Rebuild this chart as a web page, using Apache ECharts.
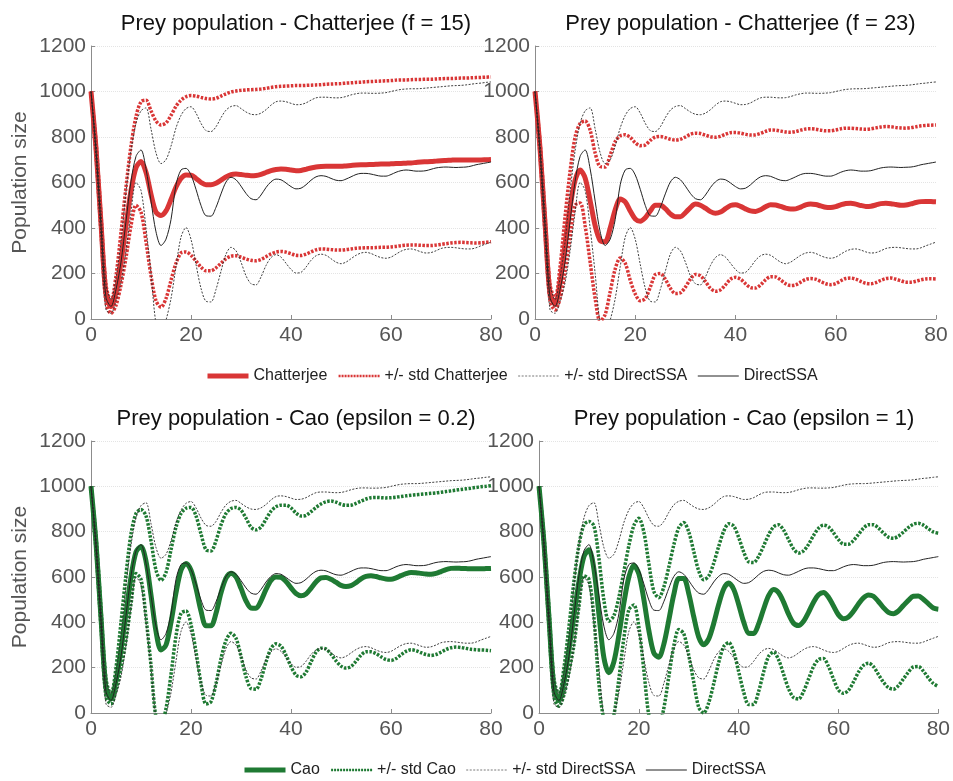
<!DOCTYPE html>
<html>
<head>
<meta charset="utf-8">
<script src="https://cdn.jsdelivr.net/npm/echarts@6/dist/echarts.min.js"></script>
<style>
  html, body { margin: 0; padding: 0; background: #fff; }
  #main { width: 953px; height: 781px; }
</style>
</head>
<body>
<div id="main"></div>
<script>
// time points (0..80)
var t = [];
for (var k = 0; k <= 80; k++) t.push(k);

// DirectSSA (same in every panel)
var ssaMean = [
  1000, 740, 410, 95, 55, 130, 250, 430, 605, 715,
  743, 660, 518, 383, 323, 351, 437, 590, 655, 662,
  633, 570, 499, 454, 452, 491, 550, 602, 623, 612,
  584, 552, 529, 524, 545, 578, 603, 615, 612, 598,
  582, 572, 575, 590, 610, 625, 630, 627, 618, 610,
  608, 615, 625, 635, 640, 640, 637, 632, 628, 628,
  635, 645, 652, 655, 653, 650, 650, 652, 658, 664,
  667, 668, 667, 666, 667, 668, 672, 678, 682, 686,
  690];
var ssaUpper = [
  1000, 780, 470, 150, 85, 180, 340, 560, 740, 860,
  915, 928, 835, 730, 683, 700, 760, 840, 895, 925,
  933, 905, 860, 828, 824, 845, 885, 918, 934, 938,
  925, 910, 900, 898, 905, 920, 940, 955, 958, 955,
  948, 942, 943, 950, 962, 972, 975, 975, 973, 972,
  973, 978, 985, 990, 993, 993, 992, 992, 993, 995,
  1000, 1005, 1009, 1011, 1012, 1012, 1013, 1015, 1017, 1019,
  1021, 1023, 1025, 1026, 1027, 1029, 1032, 1035, 1037, 1040,
  1042];
var ssaLower = [
  1000, 700, 350, 40, 25, 80, 160, 300, 470, 600,
  565, 400, 200, -20, -70, -5, 90, 230, 360, 402,
  350, 240, 135, 78, 75, 130, 210, 285, 315, 300,
  250, 190, 155, 150, 185, 235, 270, 283, 272, 245,
  218, 202, 205, 228, 258, 278, 285, 280, 265, 250,
  243, 250, 265, 280, 290, 293, 288, 278, 270, 267,
  272, 285, 298, 306, 308, 303, 295, 290, 292, 300,
  310, 314, 315, 313, 310, 308, 308, 313, 322, 330,
  338];

// Chatterjee f = 15
var chat15Mean = [
  1000, 750, 420, 110, 55, 120, 250, 410, 565, 665,
  692, 645, 548, 470, 455, 475, 525, 580, 618, 633,
  632, 618, 600, 590, 590, 597, 610, 625, 635, 637,
  635, 632, 630, 631, 636, 644, 652, 657, 659, 658,
  655, 652, 653, 658, 664, 668, 670, 671, 671, 671,
  671, 673, 675, 677, 678, 678, 679, 680, 681, 681,
  682, 683, 684, 685, 686, 688, 690, 691, 692, 694,
  696, 697, 698, 699, 699, 699, 699, 699, 699, 700,
  701];
var chat15Upper = [
  1000, 780, 460, 150, 75, 190, 380, 580, 760, 890,
  955, 962, 915, 870, 853, 862, 895, 935, 962, 977,
  982, 980, 974, 969, 967, 970, 980, 990, 998, 1002,
  1005, 1007, 1008, 1009, 1011, 1014, 1018, 1021, 1023, 1024,
  1025, 1026, 1026, 1027, 1028, 1029, 1030, 1032, 1033, 1034,
  1035, 1037, 1038, 1040, 1041, 1043, 1044, 1045, 1046, 1047,
  1048, 1050, 1051, 1051, 1052, 1053, 1053, 1054, 1054, 1055,
  1056, 1057, 1057, 1058, 1059, 1059, 1060, 1061, 1062, 1063,
  1064];
var chat15Lower = [
  1000, 720, 380, 70, 25, 60, 150, 270, 410, 500,
  470, 340, 190, 80, 52, 90, 170, 245, 290, 295,
  280, 255, 228, 212, 212, 225, 245, 265, 276, 278,
  272, 264, 258, 256, 262, 274, 286, 294, 297, 294,
  287, 280, 279, 285, 295, 304, 308, 307, 305, 303,
  303, 305, 308, 311, 312, 313, 313, 314, 315, 315,
  317, 319, 322, 324, 325, 325, 324, 323, 323, 325,
  328, 331, 334, 336, 337, 336, 335, 334, 335, 337,
  340];

// Chatterjee f = 23
var chat23Mean = [
  1000, 750, 420, 110, 65, 160, 330, 490, 610, 655,
  620, 520, 410, 345, 340, 400, 480, 527, 515, 475,
  440, 430, 445, 475, 500, 500, 485, 462, 450, 450,
  467, 490, 505, 500, 487, 472, 465, 470, 485, 499,
  502, 495, 484, 475, 473, 480, 493, 502, 501, 495,
  487, 483, 484, 492, 502, 506, 503, 497, 491, 490,
  494, 502, 508, 509, 505, 499, 495, 496, 501, 507,
  509, 507, 503, 500, 501, 506, 512, 516, 517, 516,
  515];
var chat23Upper = [
  1000, 780, 460, 150, 90, 230, 450, 650, 800, 860,
  870, 830, 730, 670, 668, 720, 780, 805, 810, 798,
  775, 762, 765, 785, 800, 802, 797, 790, 787, 790,
  800, 812, 817, 815, 808, 801, 799, 803, 812, 819,
  820, 817, 812, 809, 810, 816, 825, 831, 830, 826,
  822, 821, 824, 830, 835, 836, 834, 830, 827, 827,
  831, 836, 839, 839, 837, 835, 834, 836, 840, 844,
  846, 845, 842, 840, 839, 841, 845, 849, 851, 852,
  853];
var chat23Lower = [
  1000, 720, 380, 80, 40, 90, 210, 360, 500, 510,
  410, 250, 90, -10, 20, 120, 220, 268, 245, 170,
  110, 80, 90, 140, 195, 200, 175, 135, 112, 115,
  140, 175, 196, 190, 165, 135, 122, 128, 150, 175,
  183, 175, 155, 138, 136, 150, 172, 186, 185, 172,
  155, 147, 150, 162, 174, 178, 175, 165, 155, 151,
  156, 168, 178, 180, 175, 165, 157, 155, 160, 170,
  178, 180, 175, 168, 162, 162, 166, 172, 176, 177,
  176];

// Cao epsilon = 0.2
var cao02Mean = [
  1000, 750, 420, 110, 62, 140, 280, 440, 600, 710,
  735, 670, 520, 360, 278, 300, 400, 530, 630, 660,
  630, 550, 450, 385, 385, 440, 530, 595, 617, 600,
  550, 495, 463, 462, 495, 545, 585, 600, 598, 580,
  552, 527, 517, 525, 550, 578, 596, 598, 590, 577,
  563, 558, 562, 575, 592, 603, 606, 602, 596, 591,
  590, 596, 606, 615, 620, 619, 616, 613, 612, 616,
  624, 633, 638, 639, 638, 637, 636, 636, 636, 637,
  638];
var cao02Upper = [
  1000, 780, 460, 150, 80, 200, 400, 610, 790, 880,
  898, 870, 760, 630, 585, 620, 720, 820, 880, 903,
  907, 870, 790, 720, 715, 760, 830, 880, 902, 907,
  895, 860, 820, 808, 820, 855, 890, 910, 917, 917,
  905, 882, 869, 872, 888, 907, 922, 932, 935, 930,
  921, 916, 917, 925, 935, 944, 950, 951, 950, 949,
  950, 952, 955, 958, 961, 963, 965, 967, 969, 971,
  974, 977, 980, 983, 986, 989, 992, 995, 998, 1000,
  1003];
var cao02Lower = [
  1000, 720, 380, 70, 40, 100, 200, 320, 480, 615,
  590, 420, 210, -20, -50, 20, 170, 340, 440, 450,
  390, 270, 130, 40, 50, 130, 240, 320, 352, 330,
  250, 160, 108, 105, 150, 225, 285, 305, 295, 255,
  205, 167, 160, 180, 225, 268, 286, 282, 260, 230,
  207, 198, 205, 228, 255, 270, 270, 262, 248, 236,
  232, 240, 257, 272, 279, 275, 266, 258, 254, 258,
  268, 280, 288, 291, 289, 285, 281, 279, 278, 277,
  275];

// Cao epsilon = 1
var cao1Mean = [
  1000, 750, 420, 110, 55, 140, 280, 430, 580, 690,
  720, 636, 437, 244, 178, 226, 343, 485, 600, 652,
  614, 502, 365, 265, 246, 303, 409, 522, 593, 593,
  527, 425, 335, 301, 327, 395, 479, 547, 573, 546,
  479, 402, 352, 351, 393, 459, 518, 545, 531, 489,
  436, 396, 386, 405, 444, 489, 522, 532, 511, 472,
  433, 416, 424, 449, 481, 508, 521, 515, 492, 465,
  444, 438, 450, 474, 497, 515, 516, 502, 482, 463,
  458];
var cao1Upper = [
  1000, 780, 460, 150, 80, 200, 380, 580, 740, 830,
  845, 826, 683, 498, 405, 429, 510, 624, 738, 827,
  859, 799, 660, 537, 509, 555, 643, 741, 817, 840,
  799, 713, 627, 588, 604, 661, 735, 801, 835, 825,
  775, 711, 667, 664, 691, 737, 786, 821, 830, 807,
  765, 724, 706, 715, 744, 783, 815, 829, 821, 795,
  765, 745, 745, 761, 788, 815, 831, 831, 816, 794,
  776, 771, 780, 798, 818, 833, 837, 829, 813, 799,
  793];
var cao1Lower = [
  1000, 720, 380, 70, 30, 80, 180, 300, 470, 605,
  590, 420, 130, -30, -80, -10, 150, 330, 455, 477,
  380, 190, -10, -80, -60, 20, 160, 295, 368, 350,
  255, 137, 25, 0, 45, 129, 223, 293, 311, 270,
  183, 93, 37, 38, 95, 181, 250, 269, 235, 171,
  107, 68, 62, 95, 150, 205, 236, 240, 205, 150,
  101, 87, 100, 137, 180, 210, 220, 205, 170, 136,
  112, 105, 120, 150, 180, 203, 205, 185, 155, 130,
  117];

var titles = [
  'Prey population - Chatterjee (f = 15)',
  'Prey population - Chatterjee (f = 23)',
  'Prey population - Cao (epsilon = 0.2)',
  'Prey population - Cao (epsilon = 1)'
];
var xTicks = [0, 20, 40, 60, 80];
var yTicks = [0, 200, 400, 600, 800, 1000, 1200];

var RED = '#d93636';
var GREEN = '#1f7a33';
var FONT = 'Liberation Sans';

var grids = [
  { left: 91, top: 46, width: 400, height: 273 },
  { left: 535, top: 46, width: 401, height: 273 },
  { left: 91, top: 441, width: 400, height: 272 },
  { left: 539, top: 441, width: 400, height: 272 }
];

var panels = [
  { name: 'Chatterjee', color: RED, mean: chat15Mean, up: chat15Upper, lo: chat15Lower },
  { name: 'Chatterjee', color: RED, mean: chat23Mean, up: chat23Upper, lo: chat23Lower },
  { name: 'Cao', color: GREEN, mean: cao02Mean, up: cao02Upper, lo: cao02Lower },
  { name: 'Cao', color: GREEN, mean: cao1Mean, up: cao1Upper, lo: cao1Lower }
];

function pairs(arr) {
  return t.map(function (x, i) { return [x, arr[i]]; });
}

var series = [];
panels.forEach(function (p, i) {
  var base = { type: 'line', xAxisIndex: i, yAxisIndex: i, symbol: 'none', smooth: 0.3, animation: false, silent: true };
  series.push(Object.assign({}, base, { name: p.name, data: pairs(p.mean),
    lineStyle: { color: p.color, width: 5 }, itemStyle: { color: p.color } }));
  [p.up, p.lo].forEach(function (d) {
    series.push(Object.assign({}, base, { name: '+/- std ' + p.name, data: pairs(d),
      lineStyle: { color: p.color, width: 3.5, type: [2.5, 1.5] }, itemStyle: { color: p.color } }));
  });
  [ssaUpper, ssaLower].forEach(function (d) {
    series.push(Object.assign({}, base, { name: '+/- std DirectSSA', data: pairs(d),
      lineStyle: { color: '#2a2a2a', width: 0.9, type: [2, 1.5] }, itemStyle: { color: '#333' } }));
  });
  series.push(Object.assign({}, base, { name: 'DirectSSA', data: pairs(ssaMean),
    lineStyle: { color: '#222', width: 1 }, itemStyle: { color: '#222' } }));
});

function legendData(name, color) {
  return [
    { name: name, lineStyle: { color: color, width: 5 } },
    { name: '+/- std ' + name, lineStyle: { color: color, width: 2.5, type: [2, 1] } },
    { name: '+/- std DirectSSA', lineStyle: { color: '#555', width: 0.8, type: [2, 1.5] } },
    { name: 'DirectSSA', lineStyle: { color: '#222', width: 1 } }
  ];
}

var legendBase = {
  orient: 'horizontal', itemWidth: 41, itemHeight: 12, itemGap: 10, padding: 0,
  itemStyle: { opacity: 0 },
  textStyle: { fontFamily: FONT, fontSize: 16, color: '#222' },
  selectedMode: false
};

var chart = echarts.init(document.getElementById('main'), null, { renderer: 'canvas' });
chart.setOption({
  backgroundColor: '#fff',
  animation: false,
  title: grids.map(function (g, i) {
    return {
      text: titles[i], left: g.left + g.width / 2, top: i < 2 ? 8 : 403, textAlign: 'center',
      textStyle: { fontFamily: FONT, fontSize: 22, fontWeight: 'normal', color: '#111' }
    };
  }),
  legend: [
    Object.assign({}, legendBase, { left: 205, top: 368, data: legendData('Chatterjee', RED) }),
    Object.assign({}, legendBase, { left: 242, top: 762, data: legendData('Cao', GREEN) })
  ],
  grid: grids,
  xAxis: grids.map(function (g, i) {
    return {
      type: 'value', gridIndex: i, min: xTicks[0], max: xTicks[xTicks.length - 1], interval: 20,
      axisLine: { lineStyle: { color: '#8c8c8c', width: 1 } },
      axisTick: { inside: true, length: 4, lineStyle: { color: '#8c8c8c' } },
      axisLabel: { fontFamily: FONT, fontSize: 21, color: '#555', margin: 6 },
      splitLine: { show: false }
    };
  }),
  yAxis: grids.map(function (g, i) {
    return {
      type: 'value', gridIndex: i, min: yTicks[0], max: yTicks[yTicks.length - 1], interval: 200,
      name: (i % 2 === 0) ? 'Population size' : '',
      nameLocation: 'middle', nameGap: 60, nameRotate: 90,
      nameTextStyle: { fontFamily: FONT, fontSize: 21, color: '#555' },
      axisLine: { show: true, lineStyle: { color: '#8c8c8c', width: 1 } },
      axisTick: { show: true, inside: true, length: 4, lineStyle: { color: '#8c8c8c' } },
      axisLabel: { fontFamily: FONT, fontSize: 21, color: '#555', margin: 5,
        formatter: function (v) { return String(v); } },
      splitLine: { show: true, lineStyle: { color: '#e4e4e4', width: 1, type: 'dotted' } }
    };
  }),
  series: series
});
</script>
</body>
</html>
